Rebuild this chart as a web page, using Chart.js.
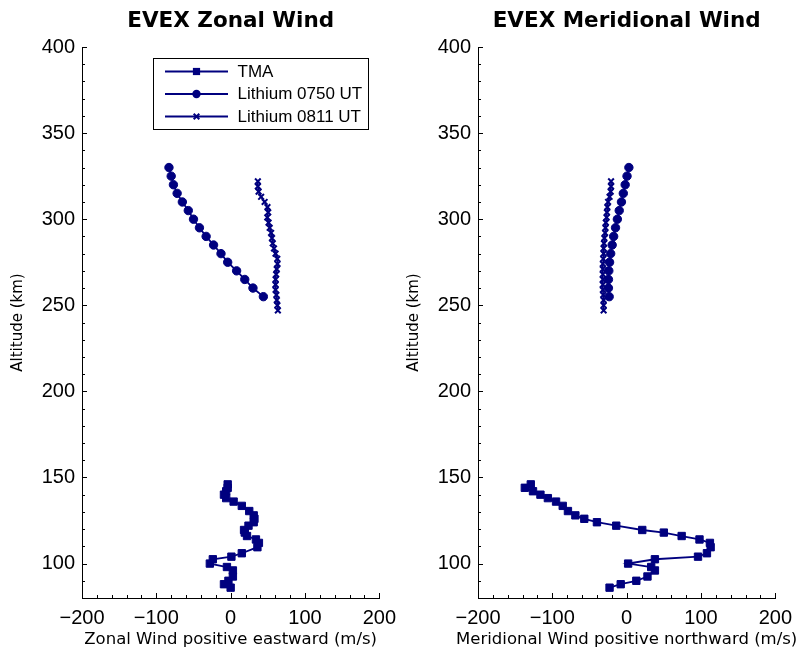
<!DOCTYPE html>
<html><head><meta charset="utf-8">
<script src="https://cdn.jsdelivr.net/npm/chart.js@4"></script>
<style>
html,body{margin:0;padding:0;background:#fff;}
#wrap{position:relative;width:800px;height:652px;overflow:hidden;}
.pane{position:absolute;top:0;width:404px;height:652px;}
</style></head><body>
<div id="wrap">
<div class="pane" style="left:0"><canvas id="c1" width="404" height="652"></canvas></div>
<div class="pane" style="left:396px"><canvas id="c2" width="404" height="652"></canvas></div>
</div>
<script>
// ---- data (altitude in km, wind in m/s) ----
const tmaAlt   = [146,144,142,140,138,136,133.5,130.5,128,126,124,122,119.5,118,116,114,112,109.5,106,104,102.5,100,98,96,92.5,90,88,86];
const tmaZonal = [-4,-4,-6,-9,-6,4,15,25,31,32,31,24,18,19,22,34,38,36,15,1,-24,-28,-5,3,3,-3,-9,0];
const tmaMerid = [-129,-137,-126,-116,-106,-95,-86,-79,-69,-57,-40,-14,21,50,74,98,112,113,108,96,38,2,33,38,28,13,-8,-23];

const li0750Alt   = [330,325,320,315,310,305,300,295,290,285,280,275,270,265,260,255];
const li0750Zonal = [-83,-80,-77,-72,-65,-57,-50,-42,-33,-23,-13,-4,8,19,30,44];
const li0750Merid = [3,0.5,-2,-4.5,-7,-10,-12.5,-15,-17.5,-19.5,-21.5,-23,-24,-24.5,-24.5,-23.5];

const li0811Alt   = [322,319,316,313,310,307,304,301,298,295,292,289,286,283,280,277,274,271,268,265,262,259,256,253,250,247];
const li0811Zonal = [36.6,36.6,37.6,41,45.7,49.5,50.5,49.3,51,52.5,54.4,55.6,56.6,58.3,60.4,62.7,63,62,61.2,60.5,60.4,60.4,61.5,62.1,62.8,63.5];
const li0811Merid = [-21,-21,-21.5,-23,-25,-26,-26.5,-27,-28,-28.5,-29,-30,-30.5,-31,-31,-31.5,-32,-32,-32,-32,-32,-32,-31.5,-31,-31,-31];

const seriesNames = ['TMA','Lithium 0750 UT','Lithium 0811 UT'];
const xRange = [-200, 200], xStep = 100, xMinor = 20;
const yRange = [80, 400],  yStep = 50,  yMinor = 10;

const NAVY = '#00007f';
const TICK_FONT = 'Liberation Sans, Arial, sans-serif';
const LABEL_FONT = 'DejaVu Sans, sans-serif';

function pts(xs, ys){ return xs.map((v,i)=>({x:v, y:ys[i]})); }

function makeDatasets(tmaV, l50V, l11V){
  return [
    {label:seriesNames[0], data:pts(tmaV, tmaAlt), pointStyle:'rect', pointRadius:5.2, pointBorderWidth:1},
    {label:seriesNames[1], data:pts(l50V, li0750Alt), pointStyle:'circle', pointRadius:4.2, pointBorderWidth:1},
    {label:seriesNames[2], data:pts(l11V, li0811Alt), pointStyle:'crossRot', pointRadius:4, pointBorderWidth:2}
  ].map(d=>Object.assign(d,{showLine:true, borderColor:NAVY, backgroundColor:NAVY,
      pointBackgroundColor:NAVY, pointBorderColor:NAVY, borderWidth:1.8, tension:0}));
}

const axisTicks = {
  id:'axisTicks',
  afterDraw(chart, args, opts){
    const {ctx, chartArea:a, scales:{x,y}} = chart;
    ctx.save(); ctx.strokeStyle='#000'; ctx.lineWidth=1; ctx.beginPath();
    for (let v=xRange[0]; v<=xRange[1]; v+=xMinor){
      const px = Math.round(x.getPixelForValue(v))+0.5;
      const L = (v % xStep === 0) ? 5 : 3;
      ctx.moveTo(px, a.bottom); ctx.lineTo(px, a.bottom-L);
    }
    for (let v=yRange[0]; v<=yRange[1]; v+=yMinor){
      const py = Math.round(y.getPixelForValue(v))+0.5;
      const L = (v % yStep === 0) ? 5 : 3;
      ctx.moveTo(a.left, py); ctx.lineTo(a.left+L, py);
    }
    ctx.stroke();
    // x-axis title (drawn without width compression)
    ctx.fillStyle='#000'; ctx.font='16.5px '+LABEL_FONT; ctx.textAlign='center'; ctx.textBaseline='middle';
    ctx.fillText(opts.xTitle, (a.left+a.right)/2, 640);
    ctx.restore();
  }
};

function drawMarker(ctx, style, x, y){
  ctx.fillStyle = NAVY; ctx.strokeStyle = NAVY;
  if (style==='rect'){ ctx.fillRect(x-3.6, y-3.6, 7.2, 7.2); }
  else if (style==='circle'){ ctx.beginPath(); ctx.arc(x,y,4.2,0,Math.PI*2); ctx.fill(); }
  else { ctx.lineWidth=2; ctx.beginPath(); ctx.moveTo(x-2.8,y-2.8); ctx.lineTo(x+2.8,y+2.8); ctx.moveTo(x+2.8,y-2.8); ctx.lineTo(x-2.8,y+2.8); ctx.stroke(); }
}

const legendBox = {
  id:'legendBox',
  afterDatasetsDraw(chart, args, opts){
    if (!opts.show) return;
    const {ctx, chartArea:a} = chart;
    const bx = a.left+71.5, by = a.top+11.5, bw = 215, bh = 71;
    ctx.save();
    ctx.fillStyle='#fff'; ctx.fillRect(bx,by,bw,bh);
    ctx.strokeStyle='#000'; ctx.lineWidth=1; ctx.strokeRect(bx,by,bw,bh);
    chart.data.datasets.forEach((d,i)=>{
      const yy = a.top + 24.5 + 22.5*i;
      ctx.strokeStyle = NAVY; ctx.lineWidth = 1.8;
      ctx.beginPath(); ctx.moveTo(a.left+83, yy); ctx.lineTo(a.left+146, yy); ctx.stroke();
      drawMarker(ctx, d.pointStyle, a.left+114.5, yy);
      ctx.fillStyle='#000'; ctx.font = '17px '+TICK_FONT; ctx.textBaseline='middle'; ctx.textAlign='left';
      ctx.fillText(d.label, a.left+155.5, yy+0.5);
    });
    ctx.restore();
  }
};

function makeChart(id, title, xTitle, tmaV, l50V, l11V, showLegend){
  return new Chart(document.getElementById(id), {
    type:'scatter',
    data:{datasets: makeDatasets(tmaV, l50V, l11V)},
    plugins:[axisTicks, legendBox],
    options:{
      responsive:false, animation:false, devicePixelRatio:1,
      layout:{padding:{left:0, right:24, top:0, bottom:0}},
      plugins:{
        legend:{display:false}, tooltip:{enabled:false},
        title:{display:true, text:title, fullSize:false, color:'#000',
               font:{family:LABEL_FONT, size:21.5, weight:'bold'}, padding:{top:9, bottom:12.2}},
        legendBox:{show:showLegend},
        axisTicks:{xTitle:xTitle}
      },
      scales:{
        x:{type:'linear', position:'bottom', min:xRange[0], max:xRange[1],
           grid:{display:false, drawTicks:false}, border:{display:true, color:'#000', width:1},
           ticks:{stepSize:xStep, includeBounds:false, color:'#000', padding:8, maxRotation:0,
                  font:{family:TICK_FONT, size:20},
                  callback:v=>String(v).replace('-', '\u2212')},
           title:{display:false},
           afterFit:s=>{ s.height = 54; }},
        y:{type:'linear', position:'left', min:yRange[0], max:yRange[1],
           grid:{display:false, drawTicks:false}, border:{display:true, color:'#000', width:1},
           ticks:{stepSize:yStep, includeBounds:false, color:'#000', padding:7,
                  font:{family:TICK_FONT, size:20}},
           title:{display:true, text:'Altitude (km)', color:'#000', font:{family:LABEL_FONT, size:15}, padding:{top:9, bottom:0}},
           afterFit:s=>{ s.width = 82; }}
      }
    }
  });
}

makeChart('c1','EVEX Zonal Wind','Zonal Wind positive eastward (m/s)', tmaZonal, li0750Zonal, li0811Zonal, true);
makeChart('c2','EVEX Meridional Wind','Meridional Wind positive northward (m/s)', tmaMerid, li0750Merid, li0811Merid, false);
</script>
</body></html>
